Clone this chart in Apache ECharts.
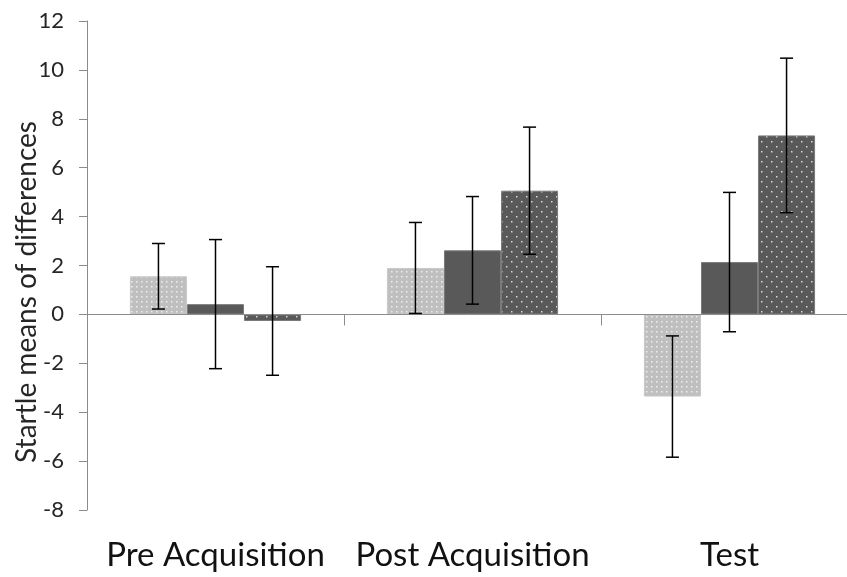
<!DOCTYPE html>
<html>
<head>
<meta charset="utf-8">
<script src="https://cdn.jsdelivr.net/npm/echarts@6/dist/echarts.min.js"></script>
<style>
  html, body { margin: 0; padding: 0; background: #ffffff; }
  #chart { width: 847px; height: 577px; }
</style>
</head>
<body>
<div id="chart"></div>
<script>
// Phases on the category axis
const categories = ['Pre Acquisition', 'Post Acquisition', 'Test'];

// Mean startle differences per condition and their error half-widths
const lightMeans  = [1.56, 1.90, -3.36];
const lightErr    = [1.34, 1.86, 2.48];
const darkMeans   = [0.42, 2.62, 2.14];
const darkErr     = [2.64, 2.20, 2.85];
const dottedMeans = [-0.27, 5.06, 7.32];
const dottedErr   = [2.22, 2.60, 3.16];

// Value axis ticks
const yMin = -8, yMax = 12, yStep = 2;

// Dotted fill patterns for the bars
function dotPattern(bg, dot, stepX, stepY, stagger) {
  const c = document.createElement('canvas');
  c.width = stepX * (stagger ? 2 : 1);
  c.height = stepY * 2;
  const ctx = c.getContext('2d');
  ctx.fillStyle = bg;
  ctx.fillRect(0, 0, c.width, c.height);
  ctx.fillStyle = dot;
  for (let r = 0; r < 2; r++) {
    for (let x = 0; x < c.width; x += stepX) {
      const ox = stagger && r === 1 ? stepX / 2 : 0;
      ctx.fillRect(x + ox + 1, r * stepY + 1, 1.5, 1.5);
    }
  }
  return c;
}

const lightFill  = { image: dotPattern('#bfbfbf', '#eeeeee', 5, 5, false), repeat: 'repeat' };
const darkFill   = '#595959';
const dottedFill = { image: dotPattern('#595959', '#d8d8d8', 10, 5, true), repeat: 'repeat' };

const groups = [
  { name: 'Condition 1', means: lightMeans,  err: lightErr,  fill: lightFill,  border: '#c8c8c8' },
  { name: 'Condition 2', means: darkMeans,   err: darkErr,   fill: darkFill,   border: '#7a7a7a' },
  { name: 'Condition 3', means: dottedMeans, err: dottedErr, fill: dottedFill, border: '#7a7a7a' }
];

const gapRatio = 0.334;

const barSeries = groups.map(g => ({
  type: 'bar',
  name: g.name,
  data: g.means,
  barGap: '0%',
  barCategoryGap: (gapRatio * 100) + '%',
  itemStyle: { color: g.fill, borderColor: g.border, borderWidth: 1 },
  z: 2
}));

// Error bars: [categoryIndex, groupIndex, low, high]
const errData = [];
groups.forEach((g, gi) => {
  g.means.forEach((m, ci) => {
    errData.push([ci, gi, m - g.err[ci], m + g.err[ci]]);
  });
});

const errorSeries = {
  type: 'custom',
  name: 'Error',
  data: errData,
  encode: { x: 0, y: [2, 3] },
  z: 5,
  renderItem: function (params, api) {
    const ci = api.value(0), gi = api.value(1);
    const band = api.size([1, 0])[0];
    const bw = band * (1 - gapRatio) / groups.length;
    const lowPt = api.coord([ci, api.value(2)]);
    const highPt = api.coord([ci, api.value(3)]);
    const x = lowPt[0] + (gi - (groups.length - 1) / 2) * bw;
    const cap = 6.5;
    const style = { stroke: '#000000', lineWidth: 1.5 };
    return {
      type: 'group',
      children: [
        { type: 'line', shape: { x1: x, y1: highPt[1], x2: x, y2: lowPt[1] }, style },
        { type: 'line', shape: { x1: x - cap, y1: highPt[1], x2: x + cap, y2: highPt[1] }, style },
        { type: 'line', shape: { x1: x - cap, y1: lowPt[1], x2: x + cap, y2: lowPt[1] }, style }
      ]
    };
  }
};

const chart = echarts.init(document.getElementById('chart'), null, { renderer: 'canvas' });

chart.setOption({
  backgroundColor: '#ffffff',
  animation: false,
  // plot area runs slightly past the right edge of the canvas
  grid: {
    left: 87, width: 771, top: 21, height: 489,
    containLabel: false,
    outerBoundsMode: 'none'
  },
  xAxis: [
    {
      type: 'category',
      data: categories,
      axisLine: { onZero: true, lineStyle: { color: '#8c8c8c', width: 1 } },
      axisTick: { show: true, length: 11, lineStyle: { color: '#8c8c8c' } },
      axisLabel: { show: false },
      z: 3
    },
    {
      type: 'category',
      data: categories,
      position: 'bottom',
      axisLine: { show: false, onZero: false },
      axisTick: { show: false },
      axisLabel: {
        show: true,
        interval: 0,
        margin: 29,
        fontFamily: 'Lato',
        fontSize: 33,
        color: '#111111'
      }
    }
  ],
  yAxis: {
    type: 'value',
    min: yMin,
    max: yMax,
    interval: yStep,
    splitLine: { show: false },
    axisLine: { show: true, lineStyle: { color: '#8c8c8c', width: 1 } },
    axisTick: { show: true, length: 8, lineStyle: { color: '#8c8c8c' } },
    axisLabel: {
      margin: 23,
      fontFamily: 'Lato',
      fontSize: 22,
      color: '#262626'
    }
  },
  graphic: [
    {
      type: 'text',
      x: 27,
      y: 292,
      rotation: Math.PI / 2,
      style: {
        text: 'Startle means of differences',
        font: '28px Lato',
        fill: '#262626',
        textAlign: 'center',
        textVerticalAlign: 'middle'
      }
    }
  ],
  series: [...barSeries, errorSeries]
});
</script>
</body>
</html>
